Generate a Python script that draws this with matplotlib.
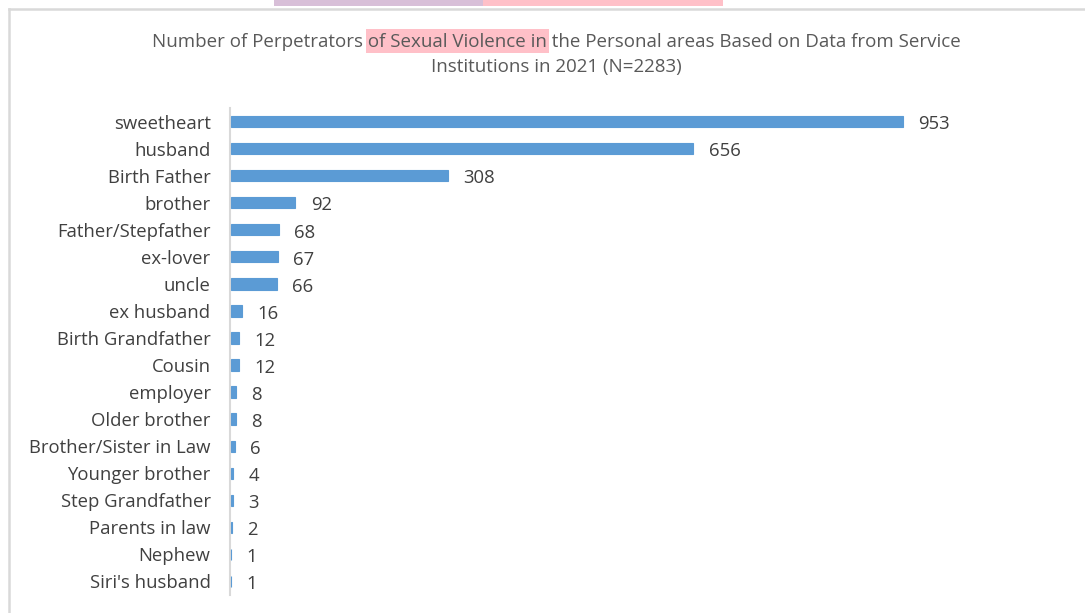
import matplotlib.pyplot as plt
from matplotlib.patches import Rectangle
from matplotlib.lines import Line2D

# Data
perpetrators = ["sweetheart", "husband", "Birth Father", "brother", "Father/Stepfather",
                "ex-lover", "uncle", "ex husband", "Birth Grandfather", "Cousin",
                "employer", "Older brother", "Brother/Sister in Law", "Younger brother",
                "Step Grandfather", "Parents in law", "Nephew", "Siri's husband"]
counts = [953, 656, 308, 92, 68, 67, 66, 16, 12, 12, 8, 8, 6, 4, 3, 2, 1, 1]

title_before = "Number of Perpetrators "
title_mark = "of Sexual Violence in"
title_after = " the Personal areas Based on Data from Service"
title_line2 = "Institutions in 2021 (N=2283)"

plt.rcParams['font.family'] = ['Open Sans', 'DejaVu Sans']
W, H = 1085, 613
fig = plt.figure(figsize=(W / 100, H / 100), dpi=100)

# page bits around the chart: cropped highlights above and the chart frame
fig.patches.append(Rectangle((274 / W, 1 - 6 / H), 209 / W, 6 / H, transform=fig.transFigure,
                             facecolor="#D8BFD8", edgecolor="none"))
fig.patches.append(Rectangle((483 / W, 1 - 6 / H), 240 / W, 6 / H, transform=fig.transFigure,
                             facecolor="#FFC0C8", edgecolor="none"))
fig.lines.append(Line2D([9 / W, 1], [1 - 9 / H, 1 - 9 / H], transform=fig.transFigure,
                        color="#D9D9D9", lw=1.8))
fig.lines.append(Line2D([9 / W, 9 / W], [0, 1 - 9 / H], transform=fig.transFigure,
                        color="#D9D9D9", lw=1.8))

ax = fig.add_axes([230 / W, 1 - 595 / H, 770 / W, 487 / H])
y = list(range(len(perpetrators)))
ax.barh(y, counts, height=0.42, color="#5B9BD5", edgecolor="#5B9BD5", linewidth=0.8, zorder=3)
ax.set_xlim(-0.8, 770 / 0.706)
ax.set_ylim(len(perpetrators) - 0.5, -0.5)
ax.set_yticks(y)
ax.set_yticklabels(perpetrators, fontsize=13.3, color="#404040")
ax.tick_params(axis="y", length=0, pad=14)
ax.set_xticks([])
for s in ["top", "right", "bottom"]:
    ax.spines[s].set_visible(False)
ax.spines["left"].set_color("#D9D9D9")
ax.spines["left"].set_linewidth(1.5)

for yi, c in zip(y, counts):
    ax.annotate(str(c), (c, yi), xytext=(11, -2), textcoords="offset points",
                va="center", ha="left", fontsize=13.3, color="#404040")

# title with the highlighted phrase
fs_t = 13.5
xc = 556 / W
t1 = fig.text(xc, 1 - 42 / H, title_before + title_mark + title_after, ha="center",
              va="center", fontsize=fs_t, color="#595959")
fig.canvas.draw()
r = fig.canvas.get_renderer()
bb = t1.get_window_extent(r)
pre = fig.text(0, 0, title_before, fontsize=fs_t)
mark = fig.text(0, 0, title_mark, fontsize=fs_t)
x0 = bb.x0 + pre.get_window_extent(r).width
mw = mark.get_window_extent(r).width
pre.remove()
mark.remove()
fig.patches.append(Rectangle(((x0 - 2) / W, (H - 53) / H), (mw + 4) / W, 24 / H,
                             transform=fig.transFigure, facecolor="#FFC0C8",
                             edgecolor="none", zorder=0))
fig.text(xc, 1 - 67 / H, title_line2, ha="center", va="center", fontsize=fs_t, color="#595959")

fig.savefig("out.png", dpi=100)
